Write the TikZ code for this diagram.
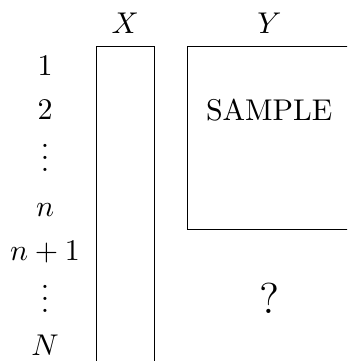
\documentclass[tikz,border=0pt]{standalone}
\usepackage{xcolor}
\usepackage{tikz}
\usetikzlibrary{positioning}

\begin{document}
\begin{tikzpicture}[x=1pt,y=1pt,
  rowlab/.style={anchor=base,inner sep=0pt},
  blockbox/.style={draw,line width=0.4pt,inner sep=0pt,anchor=north west}]
\clip (0,0) rectangle (115.7,-120.3);
% column heads
\node[rowlab] (headX) at (41.7,-11.1) {$X$};
\node[rowlab] (headY) at (89.8,-11.1) {$Y$};
% blocks
\node[blockbox,minimum width=19.4pt,minimum height=110pt] (boxX) at (32,-15.3) {};
\node[blockbox,minimum width=55.2pt,minimum height=61.1pt] (boxY) at (62.2,-15.3) {};
\node[rowlab] (sample) at (89.7,-40) {SAMPLE};
\node[rowlab,font=\Large] (unknown) at (89.9,-104.4) {?};
% row indices
\node[rowlab] (r1) at (15,-25.3) {$1$};
\node[rowlab] (r2) at (15,-39.8) {$2$};
\node[rowlab] (rdots1) at (15,-57.3) {$\vdots$};
\node[rowlab] (rn) at (15,-72) {$n$};
\node[rowlab] (rn1) at (15,-86.7) {$n+1$};
\node[rowlab] (rdots2) at (15,-104) {$\vdots$};
\node[rowlab] (rN) at (15,-118.3) {$N$};
\end{tikzpicture}
\end{document}
